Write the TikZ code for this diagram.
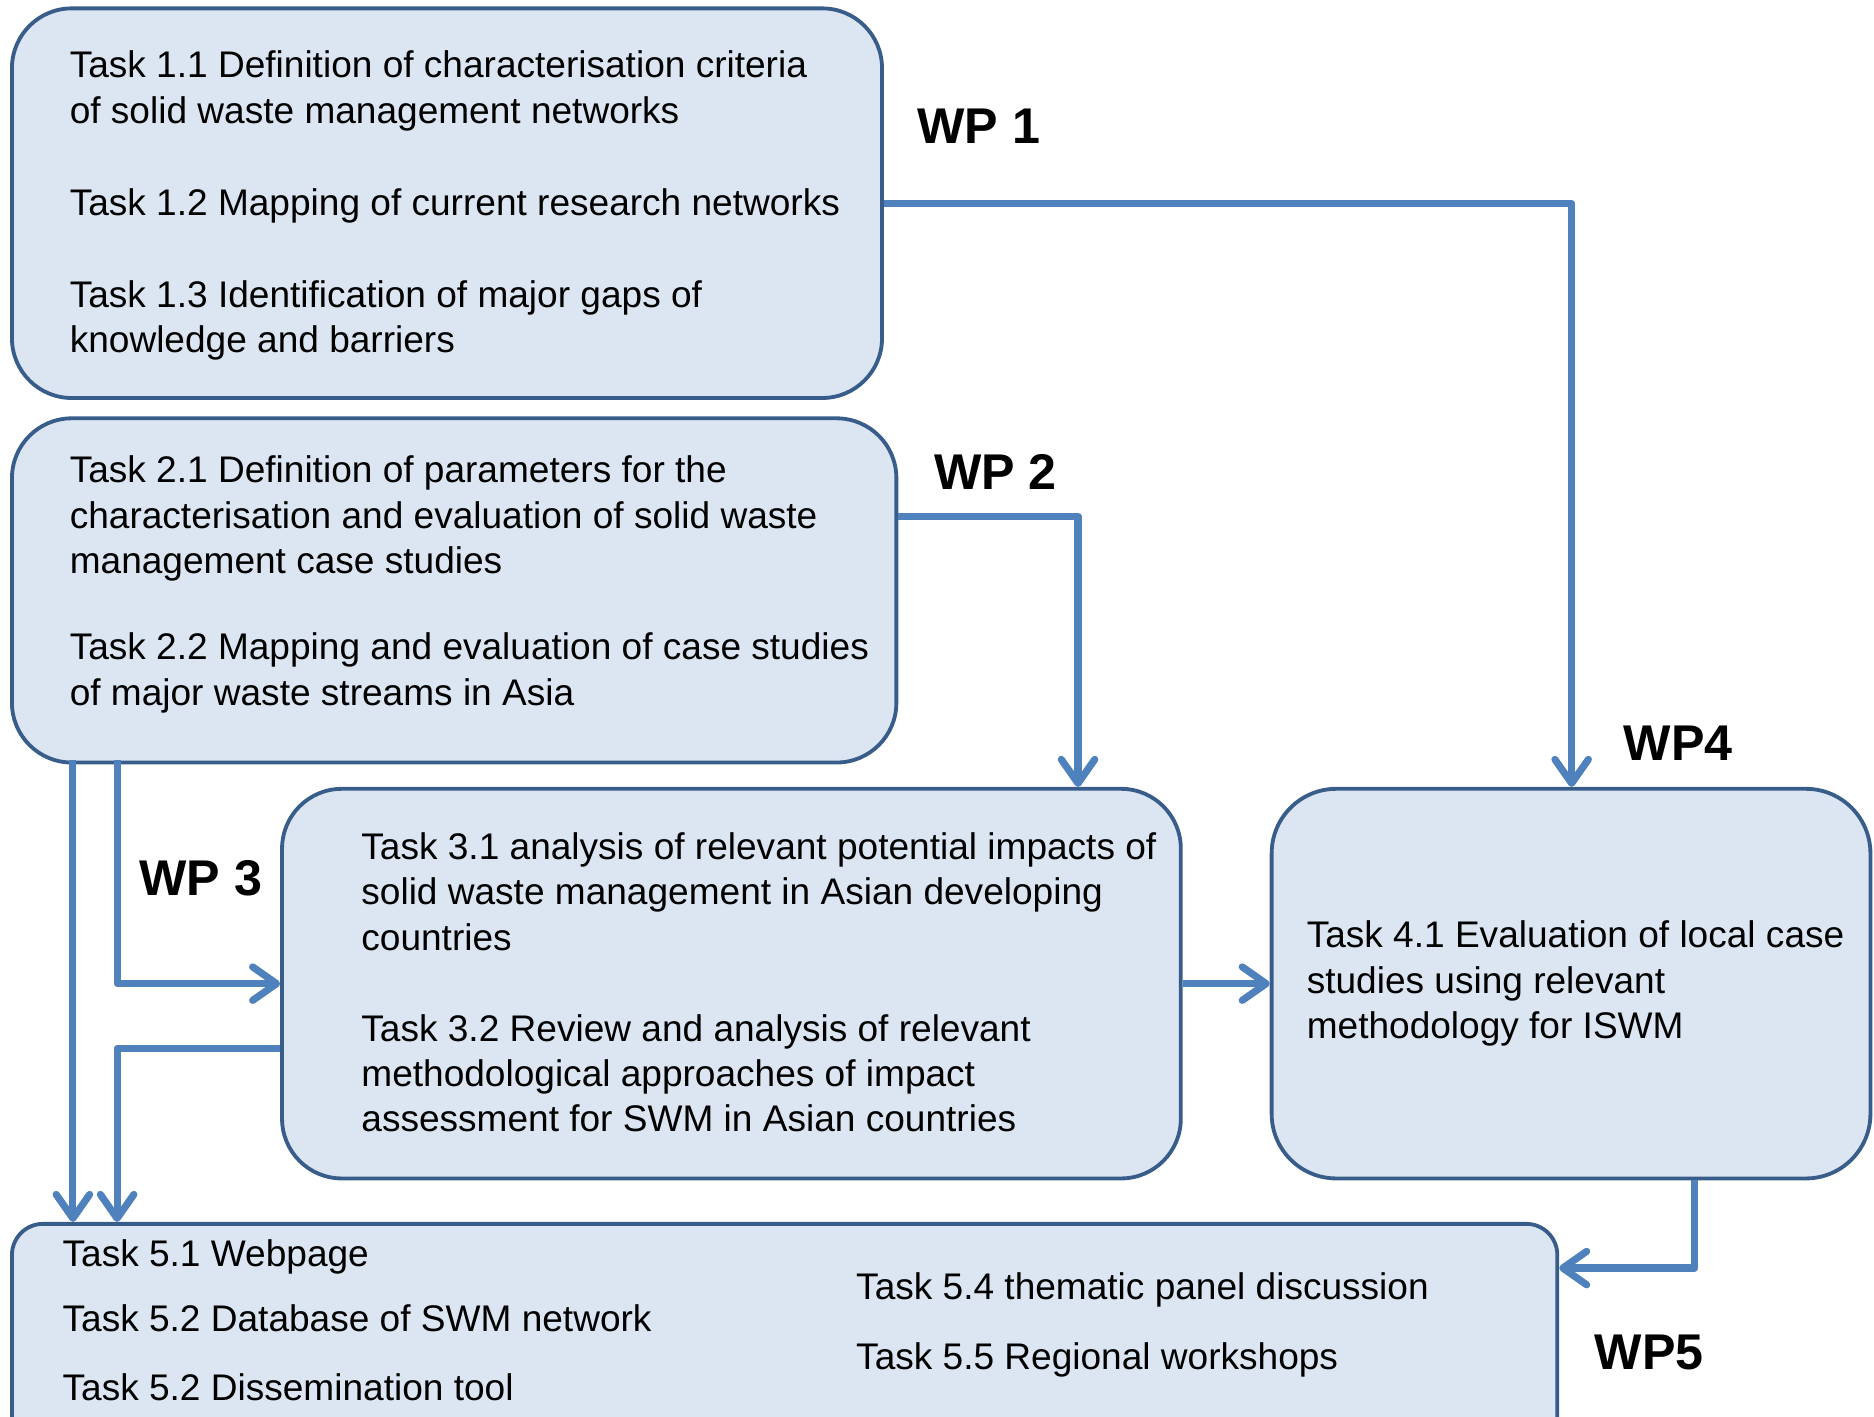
\documentclass[tikz,border=0pt]{standalone}
\usepackage{fontspec}
\setmainfont{Liberation Sans}
\usetikzlibrary{arrows.meta}
\definecolor{boxfill}{RGB}{220, 230, 242}
\definecolor{boxline}{RGB}{56, 93, 138}
\definecolor{flowline}{RGB}{79, 129, 189}

\begin{document}
\begin{tikzpicture}[x=0.5pt, y=-0.5pt,
    wpbox/.style={draw=boxline, fill=boxfill, line width=1.6pt, rounded corners=25pt, inner sep=0pt},
    tasks/.style={align=left, inner sep=0pt, anchor=west, font=\fontsize{15.5}{19}\selectfont},
    wplabel/.style={font=\fontsize{21}{25}\selectfont\bfseries},
    flow/.style={draw=flowline, line width=3pt, line join=round, -{Straight Barb[length=10pt, width=14pt, round]}}]
  \useasboundingbox (0, 0) rectangle (1568, 1185);

  % work package boxes
  \node[wpbox, minimum width=364pt, minimum height=163pt] (wp1) at (374, 170) {};
  \node[wpbox, minimum width=370pt, minimum height=144pt] (wp2) at (380, 494) {};
  \node[wpbox, minimum width=376pt, minimum height=163pt] (wp3) at (612, 823) {};
  \node[wpbox, minimum width=250.5pt, minimum height=163pt, rounded corners=27pt] (wp4) at (1314.5, 823) {};
  \node[wpbox, minimum width=646.5pt, minimum height=93pt, rounded corners=13pt] (wp5) at (656.5, 1117) {};

  \node[tasks] (t1) at (58, 172) {Task 1.1 Definition of characterisation criteria\\of solid waste management networks\\[19.5pt]
    Task 1.2 Mapping of current research networks\\[19.5pt]
    Task 1.3 Identification of major gaps of\\knowledge and barriers};
  \node[tasks] (t2) at (58, 489) {Task 2.1 Definition of parameters for the\\characterisation and evaluation of solid waste\\management case studies\\[17pt]
    Task 2.2 Mapping and evaluation of case studies\\of major waste streams in Asia};
  \node[tasks] (t3) at (302, 822) {Task 3.1 analysis of relevant potential impacts of\\solid waste management in Asian developing\\countries\\[19pt]
    Task 3.2 Review and analysis of relevant\\methodological approaches of impact\\assessment for SWM in Asian countries};
  \node[tasks] (t4) at (1093, 823) {Task 4.1 Evaluation of local case\\studies using relevant\\methodology for ISWM};
  \node[tasks] (t5a) at (52, 1105) {Task 5.1 Webpage\\[8pt]Task 5.2 Database of SWM network\\[10pt]Task 5.2 Dissemination tool};
  \node[tasks] (t5b) at (716, 1108.5) {Task 5.4 thematic panel discussion\\[10.5pt]Task 5.5 Regional workshops};

  \node[wplabel] (l1) at (819, 106) {WP 1};
  \node[wplabel] (l2) at (833, 395) {WP 2};
  \node[wplabel] (l3) at (168, 735) {WP 3};
  \node[wplabel] (l4) at (1404, 622) {WP4};
  \node[wplabel] (l5) at (1380, 1132) {WP5};

  % connectors
  \coordinate (k1) at (1315, 170);
  \coordinate (k2) at (902, 432);
  \coordinate (k3) at (98, 877);
  \coordinate (k4) at (1418, 1061);
  \coordinate (c1) at (61, 636);
  \coordinate (c2) at (98, 636);

  \draw[flow] (wp1.east |- k1) -| (wp4.north -| k1);
  \draw[flow] (wp2.east |- k2) -| (wp3.north -| k2);
  \draw[flow] (c1) -- (wp5.north -| c1);
  \draw[flow] (c2) |- (wp3.west);
  \draw[flow] (wp3.west |- k3) -| (wp5.north -| k3);
  \draw[flow] (wp3.east) -- (wp4.west);
  \draw[flow] (wp4.south -| k4) |- (wp5.east |- k4);
\end{tikzpicture}
\end{document}
